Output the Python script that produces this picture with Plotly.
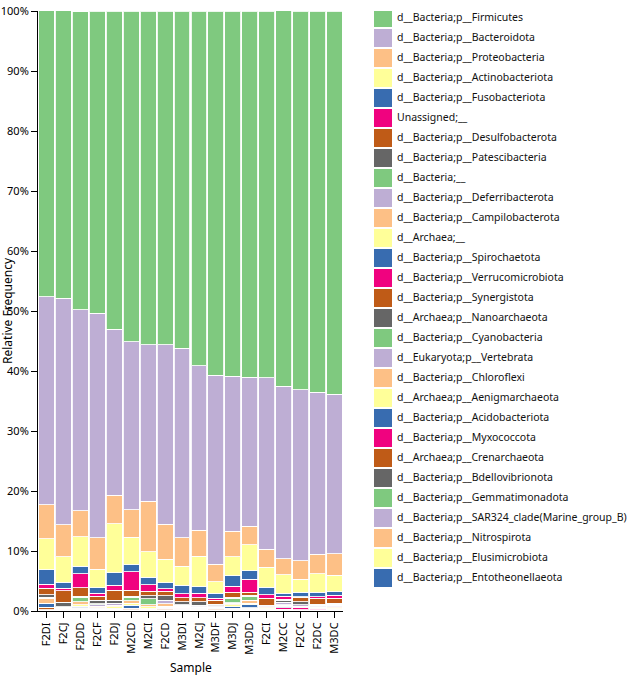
import plotly.graph_objects as go

samples = ["F2DI", "F2CJ", "F2DD", "F2CF", "F2DJ", "M2CD", "M2CI", "F2CD", "M3DI",
           "M2CJ", "M3DF", "M3DJ", "M3DD", "F2CI", "M2CC", "F2CC", "F2DC", "M3DC"]

taxa = [
    "d__Bacteria;p__Firmicutes", "d__Bacteria;p__Bacteroidota", "d__Bacteria;p__Proteobacteria",
    "d__Bacteria;p__Actinobacteriota", "d__Bacteria;p__Fusobacteriota", "Unassigned;__",
    "d__Bacteria;p__Desulfobacterota", "d__Bacteria;p__Patescibacteria", "d__Bacteria;__",
    "d__Bacteria;p__Deferribacterota", "d__Bacteria;p__Campilobacterota", "d__Archaea;__",
    "d__Bacteria;p__Spirochaetota", "d__Bacteria;p__Verrucomicrobiota", "d__Bacteria;p__Synergistota",
    "d__Archaea;p__Nanoarchaeota", "d__Bacteria;p__Cyanobacteria", "d__Eukaryota;p__Vertebrata",
    "d__Bacteria;p__Chloroflexi", "d__Archaea;p__Aenigmarchaeota", "d__Bacteria;p__Acidobacteriota",
    "d__Bacteria;p__Myxococcota", "d__Archaea;p__Crenarchaeota", "d__Bacteria;p__Bdellovibrionota",
    "d__Bacteria;p__Gemmatimonadota", "d__Bacteria;p__SAR324_clade(Marine_group_B)",
    "d__Bacteria;p__Nitrospirota", "d__Bacteria;p__Elusimicrobiota", "d__Bacteria;p__Entotheonellaeota",
]

y_ticks = [0, 10, 20, 30, 40, 50, 60, 70, 80, 90, 100]
y_tick_labels = ["0%", "10%", "20%", "30%", "40%", "50%", "60%", "70%", "80%", "90%", "100%"]

# relative frequency (%) per sample, one list per taxon
firmicutes      = [47.7, 47.9, 49.7, 50.4, 53.0, 55.05, 55.55, 55.6, 56.2, 59.1, 60.7, 60.8, 60.95, 61.1, 62.7, 63.05, 63.55, 63.9]
bacteroidota    = [34.6, 37.77, 33.5, 37.4, 27.67, 28.01, 26.12, 29.9, 31.52, 27.43, 31.47, 25.87, 24.85, 28.6, 28.8, 28.53, 26.98, 26.57]
proteobacteria  = [5.7, 5.33, 4.3, 5.2, 4.77, 4.61, 8.39, 5.83, 4.81, 4.33, 2.93, 4.19, 3.07, 3.02, 2.61, 3.09, 3.22, 3.58]
actinobacteria  = [5.17, 4.2, 4.97, 3.11, 8.2, 4.53, 4.3, 3.97, 3.17, 5.08, 1.96, 3.19, 4.38, 3.36, 3.06, 2.18, 3.1, 2.73]
fusobacteria    = [2.39, 1.0, 1.25, 0.89, 2.03, 1.19, 1.24, 0.92, 1.4, 1.12, 0.83, 1.73, 1.4, 1.25, 0.55, 0.75, 0.76, 0.62]
unassigned      = [0.66, 0.47, 2.34, 0.5, 0.83, 3.11, 1.07, 0.45, 0.68, 0.72, 0.28, 1.0, 2.13, 0.56, 0.45, 0.05, 0.28, 0.49]
desulfo         = [1.11, 1.89, 1.38, 0.67, 1.67, 0.94, 0.77, 0.77, 0.66, 0.66, 0.72, 0.83, 0.55, 1.11, 0.23, 0.79, 1.0, 0.83]
patesci         = [0.39, 0.72, 0.16, 0.66, 0.55, 0.16, 0.45, 0.73, 0.45, 0.56, 0.21, 0.19, 0.17, 0.1, 0.3, 0.45, 0.16, 0.18]
bacteria_na     = [0.17, 0.1, 0.75, 0.1, 0.1, 0.6, 1.0, 0.1, 0.15, 0.1, 0.05, 0.72, 0.6, 0.05, 0.05, 0.05, 0.05, 0.1]
deferri         = [0.02, 0.05, 0.05, 0.3, 0.2, 0.05, 0.05, 0.45, 0.1, 0.15, 0.1, 0.1, 0.1, 0.15, 0.35, 0.25, 0.2, 0.3]
campilo         = [0.83, 0.15, 0.45, 0.25, 0.3, 0.4, 0.3, 0.45, 0.2, 0.15, 0.15, 0.3, 0.4, 0.15, 0.15, 0.1, 0.1, 0.15]
archaea_na      = [0.02, 0.1, 0.3, 0.1, 0.2, 0.35, 0.35, 0.2, 0.1, 0.15, 0.1, 0.3, 0.3, 0.15, 0.15, 0.05, 0.05, 0.15]
spiro           = [0.66, 0.08, 0.2, 0.1, 0.15, 0.45, 0.1, 0.15, 0.1, 0.1, 0.1, 0.25, 0.5, 0.05, 0.2, 0.05, 0.05, 0.05]
verruco         = [0.02, 0.04, 0.1, 0.05, 0.05, 0.1, 0.05, 0.1, 0.05, 0.05, 0.05, 0.1, 0.1, 0.05, 0.3, 0.35, 0.25, 0.05]
synerg          = [0.44, 0.08, 0.15, 0.1, 0.1, 0.15, 0.05, 0.1, 0.1, 0.1, 0.1, 0.1, 0.15, 0.1, 0.05, 0.05, 0.05, 0.1]
nano            = [0.02, 0.02, 0.1, 0.02, 0.03, 0.05, 0.01, 0.08, 0.11, 0.05, 0.1, 0.08, 0.1, 0.05, 0.05, 0.02, 0.05, 0.05]
cyano           = [0.02, 0.01, 0.03, 0.01, 0.02, 0.03, 0.02, 0.02, 0.02, 0.01, 0.01, 0.03, 0.02, 0.01, 0.02, 0.01, 0.01, 0.01]
vertebrata      = [0.01, 0.01, 0.02, 0.03, 0.02, 0.01, 0.01, 0.03, 0.02, 0.02, 0.02, 0.01, 0.02, 0.02, 0.03, 0.02, 0.02, 0.02]
chloroflexi     = [0.02, 0.01, 0.03, 0.01, 0.01, 0.02, 0.02, 0.02, 0.01, 0.01, 0.01, 0.02, 0.02, 0.01, 0.01, 0.01, 0.01, 0.01]
aenig           = [0.01, 0.01, 0.02, 0.01, 0.01, 0.02, 0.02, 0.01, 0.01, 0.01, 0.01, 0.02, 0.02, 0.01, 0.01, 0.01, 0.01, 0.01]
acido           = [0.01, 0.01, 0.02, 0.01, 0.01, 0.02, 0.01, 0.01, 0.02, 0.01, 0.01, 0.02, 0.02, 0.01, 0.02, 0.01, 0.01, 0.01]
myxo            = [0.01, 0.01, 0.01, 0.01, 0.01, 0.01, 0.01, 0.01, 0.01, 0.01, 0.01, 0.01, 0.01, 0.01, 0.01, 0.02, 0.02, 0.01]
cren            = [0.01, 0.01, 0.02, 0.01, 0.01, 0.01, 0.01, 0.01, 0.02, 0.01, 0.02, 0.01, 0.01, 0.02, 0.01, 0.01, 0.01, 0.01]
bdello          = [0.01, 0.01, 0.01, 0.01, 0.01, 0.01, 0.01, 0.01, 0.01, 0.01, 0.01, 0.01, 0.01, 0.01, 0.01, 0.01, 0.01, 0.01]
gemma           = [0.01, 0.01, 0.01, 0.01, 0.01, 0.01, 0.01, 0.01, 0.01, 0.01, 0.01, 0.01, 0.01, 0.01, 0.01, 0.01, 0.01, 0.01]
sar324          = [0.01, 0.01, 0.01, 0.01, 0.01, 0.01, 0.01, 0.01, 0.01, 0.01, 0.01, 0.01, 0.01, 0.01, 0.01, 0.01, 0.01, 0.01]
nitro           = [0.01, 0.01, 0.01, 0.01, 0.01, 0.01, 0.01, 0.01, 0.01, 0.01, 0.01, 0.01, 0.01, 0.01, 0.01, 0.01, 0.01, 0.01]
elusi           = [0.01, 0.01, 0.01, 0.01, 0.01, 0.01, 0.01, 0.01, 0.01, 0.01, 0.01, 0.01, 0.01, 0.01, 0.01, 0.01, 0.01, 0.01]
entotheo        = [0.01, 0.01, 0.01, 0.01, 0.01, 0.01, 0.01, 0.01, 0.01, 0.01, 0.01, 0.01, 0.01, 0.01, 0.01, 0.01, 0.01, 0.01]

series = [firmicutes, bacteroidota, proteobacteria, actinobacteria, fusobacteria, unassigned,
          desulfo, patesci, bacteria_na, deferri, campilo, archaea_na, spiro, verruco, synerg,
          nano, cyano, vertebrata, chloroflexi, aenig, acido, myxo, cren, bdello, gemma,
          sar324, nitro, elusi, entotheo]

palette = ["#7fc97f", "#beaed4", "#fdc086", "#ffff99", "#386cb0", "#f0027f", "#bf5b17", "#666666"]
colors = [palette[i % len(palette)] for i in range(len(taxa))]

FONT = "Noto Sans"
W, H = 629, 679
ML, MR, MT, MB = 38, 0, 11, 68
PW = W - ML - MR
PH = H - MT - MB
plot_w = 305

fig = go.Figure()
# stack from bottom (last taxon) to top (first taxon)
for i in reversed(range(len(taxa))):
    fig.add_trace(go.Bar(
        x=samples, y=series[i], name=taxa[i],
        marker=dict(color=colors[i], line=dict(color="rgba(255,255,255,0.85)", width=1)),
        showlegend=False, xaxis="x", yaxis="y",
        hovertemplate="%{x}<br>" + taxa[i] + ": %{y:.2f}%<extra></extra>",
    ))

# legend drawn as square markers + labels on a hidden side axis
idx = list(range(len(taxa)))
fig.add_trace(go.Scatter(
    x=[9] * len(taxa), y=[7 + 20 * i for i in idx], mode="markers",
    marker=dict(symbol="square", size=18, color=colors, line=dict(width=0)),
    xaxis="x2", yaxis="y2", showlegend=False, hoverinfo="skip",
))
fig.add_trace(go.Scatter(
    x=[23] * len(taxa), y=[7 + 20 * i for i in idx], mode="text",
    text=taxa, textposition="middle right",
    textfont=dict(family=FONT, size=10.5, color="#111"),
    xaxis="x2", yaxis="y2", showlegend=False, hoverinfo="skip",
))

fig.update_layout(
    width=W, height=H,
    margin=dict(l=ML, r=MR, t=MT, b=MB),
    barmode="stack", bargap=0.06,
    plot_bgcolor="white", paper_bgcolor="white",
    font=dict(family=FONT, size=11, color="#111"),
    xaxis=dict(domain=[0, plot_w / PW], type="category", showline=True, linecolor="black",
               linewidth=1, ticks="outside", ticklen=6, tickcolor="black", tickangle=-90,
               tickfont=dict(size=11, color="black"), showgrid=False, zeroline=False),
    yaxis=dict(range=[0, 100], tickmode="array", tickvals=y_ticks, ticktext=y_tick_labels,
               showline=True, linecolor="black", linewidth=1, ticks="outside", ticklen=6,
               tickcolor="black", tickfont=dict(size=11, color="black"),
               showgrid=False, zeroline=False),
    xaxis2=dict(domain=[(374 - ML) / PW, 1], range=[0, W - 374], visible=False,
                anchor="y2", fixedrange=True),
    yaxis2=dict(domain=[0, 1], range=[PH, 0], visible=False, anchor="x2", fixedrange=True),
    annotations=[
        dict(text="Relative Frequency", textangle=-90, xref="paper", yref="paper",
             x=(7 - ML) / PW, y=0.5, xanchor="center", yanchor="middle", showarrow=False,
             font=dict(size=12, color="black")),
        dict(text="Sample", xref="paper", yref="paper", x=(plot_w / 2) / PW,
             y=(611 - 667) / PH, xanchor="center", yanchor="middle", showarrow=False,
             font=dict(size=12, color="black")),
    ],
)

fig.write_html("out.html", config={"displayModeBar": False},
               post_script="document.body.style.margin='0';document.body.style.overflow='hidden';")
